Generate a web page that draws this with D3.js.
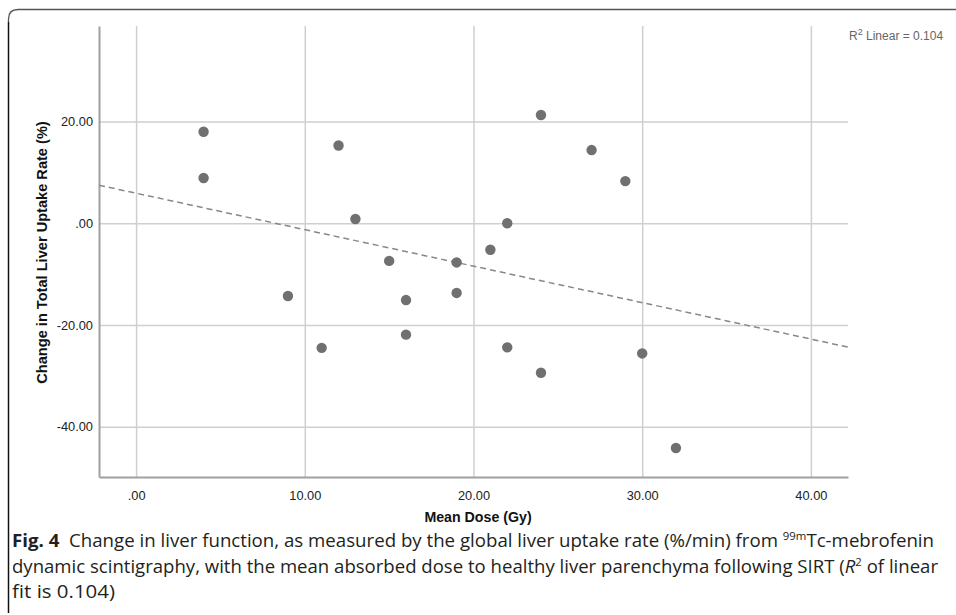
<!DOCTYPE html>
<html>
<head>
<meta charset="utf-8">
<script src="https://cdn.jsdelivr.net/npm/d3@7"></script>
<style>
  body { margin: 0; background: #fff; }
  svg { display: block; }
</style>
</head>
<body>
<svg id="chart"></svg>
<script>
// mean dose to healthy liver (Gy) vs change in total liver uptake rate (%)
var doses = [4, 4, 9, 11, 12, 13, 15, 16, 16, 19, 19, 21, 22, 22, 24, 24, 27, 29, 30, 32]
var changes = [18.0, 8.9, -14.3, -24.5, 15.3, 0.85, -7.4, -15.1, -21.9, -7.7, -13.7, -5.2, 0.0, -24.4, 21.3, -29.4, 14.4, 8.3, -25.6, -44.2]
var xTicks = [0, 10, 20, 30, 40]
var yTicks = [-40, -20, 0, 20]
var xDomain = [-2.2, 42.2]
var yDomain = [-49.9, 38.8]
var fitLabel = 'Linear = 0.104'

var width = 956, height = 615
var plot = {left: 99, right: 848, top: 26, bottom: 477}

var svg = d3.select('#chart')
    .attr('width', width)
    .attr('height', height)

// frame of the figure panel (top + left edges, rounded corner)
svg.append('path')
    .attr('d', 'M8.5,613 L8.5,19 Q8.5,9.5 18,9.5 L956,9.5')
    .attr('fill', 'none')
    .attr('stroke', '#555')
    .attr('stroke-width', 1.3)
svg.append('line')
    .attr('x1', 8.5).attr('x2', 8.5)
    .attr('y1', 22).attr('y2', 613)
    .attr('stroke', '#111')
    .attr('stroke-width', 1.3)

var x = d3.scaleLinear().domain(xDomain).range([plot.left, plot.right])
var y = d3.scaleLinear().domain(yDomain).range([plot.bottom, plot.top])

// SPSS style numbers: 20.00, .00, -20.00
function fmt (d) {
  return d3.format('.2f')(d).replace('\u2212', '-').replace(/^(-?)0\./, '$1.')
}

// gridlines
svg.append('g')
    .attr('class', 'grid')
    .attr('transform', 'translate(0,' + plot.top + ')')
    .call(d3.axisBottom(x).tickValues(xTicks).tickSize(plot.bottom - plot.top).tickFormat(''))
svg.append('g')
    .attr('class', 'grid')
    .attr('transform', 'translate(' + plot.left + ',0)')
    .call(d3.axisRight(y).tickValues(yTicks).tickSize(plot.right - plot.left).tickFormat(''))
svg.selectAll('.grid .domain').remove()
svg.selectAll('.grid line')
    .attr('stroke', '#cfcfcf')
    .attr('stroke-width', 1.5)

// x axis
var xAxis = svg.append('g')
    .attr('transform', 'translate(0,' + plot.bottom + ')')
    .call(d3.axisBottom(x).tickValues(xTicks).tickSize(0).tickFormat(fmt).tickSizeOuter(0))
xAxis.selectAll('text')
    .attr('y', 14)
    .attr('dy', '0.71em')

// y axis
var yAxis = svg.append('g')
    .attr('transform', 'translate(' + plot.left + ',0)')
    .call(d3.axisLeft(y).tickValues(yTicks).tickSize(0).tickFormat(fmt).tickSizeOuter(0))
yAxis.selectAll('text')
    .attr('x', -6)

svg.selectAll('.domain')
    .attr('stroke', '#a0a0a0')
    .attr('stroke-width', 2)
svg.selectAll('.tick text')
    .attr('font-family', 'Liberation Sans, Arial, sans-serif')
    .attr('font-size', 12.8)
    .attr('fill', '#222')

// axis titles
svg.append('text')
    .attr('x', 478)
    .attr('y', 522)
    .attr('text-anchor', 'middle')
    .attr('font-family', 'Liberation Sans, Arial, sans-serif')
    .attr('font-weight', 'bold')
    .attr('font-size', 14.2)
    .attr('fill', '#111')
    .text('Mean Dose (Gy)')

svg.append('text')
    .attr('transform', 'translate(47,' + 252.5 + ') rotate(-90)')
    .attr('text-anchor', 'middle')
    .attr('font-family', 'Liberation Sans, Arial, sans-serif')
    .attr('font-weight', 'bold')
    .attr('font-size', 14.6)
    .attr('fill', '#111')
    .text('Change in Total Liver Uptake Rate (%)')

// least squares fit line
var data = doses.map(function (d, i) { return {dose: d, change: changes[i]} })
var mx = d3.mean(doses), my = d3.mean(changes)
var sxy = d3.sum(data, function (d) { return (d.dose - mx) * (d.change - my) })
var sxx = d3.sum(doses, function (d) { return (d - mx) * (d - mx) })
var slope = sxy / sxx
var intercept = my - slope * mx

svg.append('line')
    .attr('x1', x(xDomain[0]))
    .attr('y1', y(intercept + slope * xDomain[0]))
    .attr('x2', x(xDomain[1]))
    .attr('y2', y(intercept + slope * xDomain[1]))
    .attr('stroke', '#888')
    .attr('stroke-width', 1.5)
    .attr('stroke-dasharray', '6,4')

// points
svg.selectAll('.dot')
    .data(data)
  .enter().append('circle')
    .attr('class', 'dot')
    .attr('cx', function (d) { return x(d.dose) })
    .attr('cy', function (d) { return y(d.change) })
    .attr('r', 5.2)
    .attr('fill', '#707070')

// R2 label
var r2 = svg.append('text')
    .attr('x', 849)
    .attr('y', 40)
    .attr('font-family', 'Liberation Sans, Arial, sans-serif')
    .attr('font-size', 12)
    .attr('fill', '#666')
r2.append('tspan').text('R')
r2.append('tspan').attr('dy', -5).attr('font-size', 9).text('2')
r2.append('tspan').attr('dy', 5).text(' ' + fitLabel)

// caption
var capFont = 'Open Sans, Noto Sans, sans-serif'
var cap1 = svg.append('text')
    .attr('x', 12).attr('y', 546.5)
    .attr('font-family', capFont).attr('font-size', 18).attr('fill', '#231f20')
    .attr('textLength', 922).attr('lengthAdjust', 'spacingAndGlyphs')
cap1.append('tspan').attr('font-weight', 'bold').text('Fig. 4')
cap1.append('tspan').text('\u00a0 Change in liver function, as measured by the global liver uptake rate (%/min) from ')
cap1.append('tspan').attr('font-size', 11).attr('dy', -7).text('99m')
cap1.append('tspan').attr('dy', 7).text('Tc-mebrofenin')

var cap2 = svg.append('text')
    .attr('x', 12).attr('y', 572.5)
    .attr('font-family', capFont).attr('font-size', 18).attr('fill', '#231f20')
    .attr('textLength', 926).attr('lengthAdjust', 'spacingAndGlyphs')
cap2.append('tspan').text('dynamic scintigraphy, with the mean absorbed dose to healthy liver parenchyma following SIRT (')
cap2.append('tspan').attr('font-style', 'italic').text('R')
cap2.append('tspan').attr('font-size', 11).attr('dy', -7).text('2')
cap2.append('tspan').attr('dy', 7).text(' of linear')

svg.append('text')
    .attr('x', 12).attr('y', 598)
    .attr('font-family', capFont).attr('font-size', 18).attr('fill', '#231f20')
    .attr('textLength', 103).attr('lengthAdjust', 'spacingAndGlyphs')
    .text('fit is 0.104)')
</script>
</body>
</html>
